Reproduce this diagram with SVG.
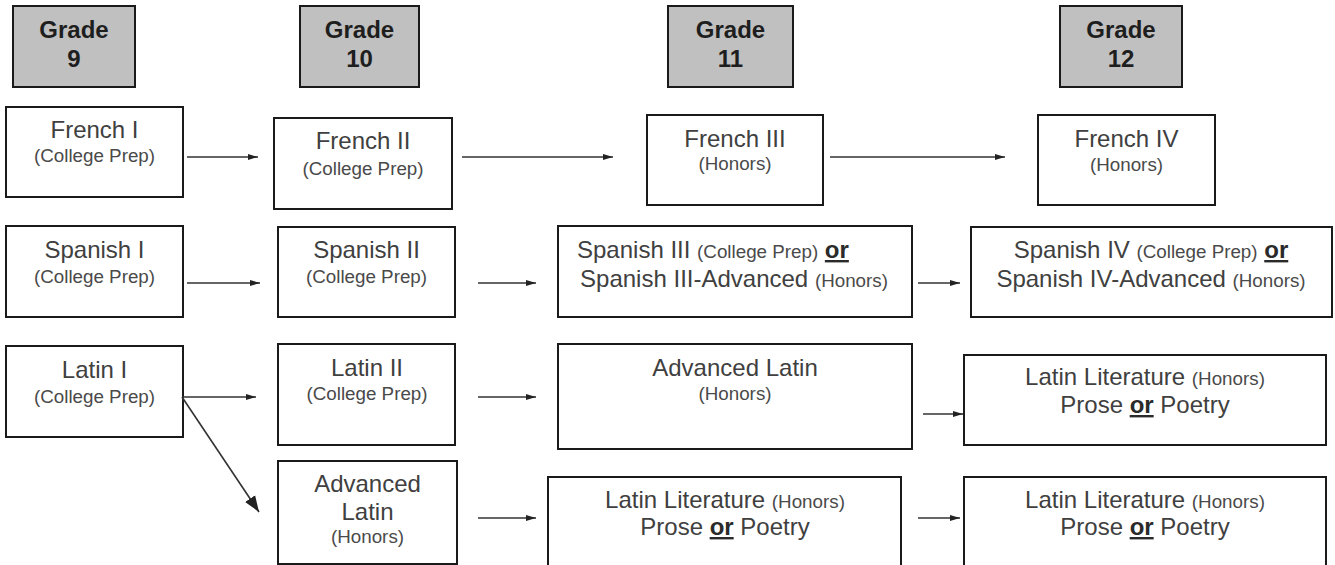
<svg xmlns="http://www.w3.org/2000/svg" width="1335" height="565" viewBox="0 0 1335 565">
<style>
.hdr{fill:#c0c0c0;stroke:#1a1a1a;stroke-width:2}
.box{fill:#fff;stroke:#1a1a1a;stroke-width:2}
.ht{font-family:"Liberation Sans",Arial,sans-serif;font-size:24px;font-weight:bold;fill:#1e1e1e;text-anchor:middle}
.t{font-family:"Liberation Sans",Arial,sans-serif;font-size:24px;fill:#404040;text-anchor:middle}
.s{font-size:18.8px;fill:#4a4a4a}
.or{font-weight:bold;text-decoration:underline;fill:#2a2a2a}
.ln{stroke:#333;stroke-width:1.6;fill:none}
</style>
<defs>
<marker id="ah" markerUnits="userSpaceOnUse" markerWidth="14" markerHeight="10" refX="10" refY="5" orient="auto">
<path d="M0,2 L10,5 L0,8 Z" fill="#222"/>
</marker>
<marker id="ahb" markerUnits="userSpaceOnUse" markerWidth="18" markerHeight="14" refX="16" refY="7" orient="auto">
<path d="M0,1 L16,7 L0,13 Z" fill="#222"/>
</marker>
</defs>

<g id="grade9"><rect class="hdr" x="13" y="6" width="122" height="81"/><text class="ht" x="74" y="38">Grade</text><text class="ht" x="74" y="67">9</text></g>
<g id="grade10"><rect class="hdr" x="300" y="6" width="119" height="81"/><text class="ht" x="359.5" y="38">Grade</text><text class="ht" x="359.5" y="67">10</text></g>
<g id="grade11"><rect class="hdr" x="668" y="6" width="125" height="81"/><text class="ht" x="730.5" y="38">Grade</text><text class="ht" x="730.5" y="67">11</text></g>
<g id="grade12"><rect class="hdr" x="1060" y="6" width="122" height="81"/><text class="ht" x="1121" y="38">Grade</text><text class="ht" x="1121" y="67">12</text></g>

<g id="french1"><rect class="box" x="6" y="107" width="177" height="90"/><text class="t" x="94.5" y="138">French I</text><text class="t s" x="94.5" y="162">(College Prep)</text></g>
<g id="french2"><rect class="box" x="274" y="118" width="178" height="91"/><text class="t" x="363" y="149">French II</text><text class="t s" x="363" y="175">(College Prep)</text></g>
<g id="french3"><rect class="box" x="647" y="115" width="176" height="90"/><text class="t" x="735" y="147">French III</text><text class="t s" x="735" y="170">(Honors)</text></g>
<g id="french4"><rect class="box" x="1038" y="115" width="177" height="90"/><text class="t" x="1126.5" y="147">French IV</text><text class="t s" x="1126.5" y="171">(Honors)</text></g>

<g id="spanish1"><rect class="box" x="6" y="226" width="177" height="91"/><text class="t" x="94.5" y="258">Spanish I</text><text class="t s" x="94.5" y="283">(College Prep)</text></g>
<g id="spanish2"><rect class="box" x="278" y="227" width="177" height="90"/><text class="t" x="366.5" y="258">Spanish II</text><text class="t s" x="366.5" y="283">(College Prep)</text></g>
<g id="spanish3"><rect class="box" x="558" y="226" width="354" height="91"/><text class="t" x="577" y="258" style="text-anchor:start">Spanish III <tspan class="s">(College Prep)</tspan> <tspan class="or">or</tspan></text><text class="t" x="734" y="287">Spanish III-Advanced <tspan class="s">(Honors)</tspan></text></g>
<g id="spanish4"><rect class="box" x="971" y="227" width="361" height="90"/><text class="t" x="1151" y="258">Spanish IV <tspan class="s">(College Prep)</tspan> <tspan class="or">or</tspan></text><text class="t" x="1151" y="287">Spanish IV-Advanced <tspan class="s">(Honors)</tspan></text></g>

<g id="latin1"><rect class="box" x="6" y="346" width="177" height="91"/><text class="t" x="94.5" y="378">Latin I</text><text class="t s" x="94.5" y="403">(College Prep)</text></g>
<g id="latin2"><rect class="box" x="278" y="344" width="177" height="101"/><text class="t" x="367" y="376">Latin II</text><text class="t s" x="367" y="400">(College Prep)</text></g>
<g id="advlatin10"><rect class="box" x="278" y="461" width="179" height="103"/><text class="t" x="367.5" y="492">Advanced</text><text class="t" x="367.5" y="520">Latin</text><text class="t s" x="367.5" y="543">(Honors)</text></g>
<g id="advlatin11"><rect class="box" x="558" y="344" width="354" height="105"/><text class="t" x="735" y="376">Advanced Latin</text><text class="t s" x="735" y="400">(Honors)</text></g>
<g id="latlit11"><rect class="box" x="548" y="477" width="353" height="100"/><text class="t" x="725" y="508">Latin Literature <tspan class="s">(Honors)</tspan></text><text class="t" x="725" y="535">Prose <tspan class="or">or</tspan> Poetry</text></g>
<g id="latlit12a"><rect class="box" x="964" y="355" width="362" height="90"/><text class="t" x="1145" y="385">Latin Literature <tspan class="s">(Honors)</tspan></text><text class="t" x="1145" y="413">Prose <tspan class="or">or</tspan> Poetry</text></g>
<g id="latlit12b"><rect class="box" x="964" y="477" width="362" height="100"/><text class="t" x="1145" y="508">Latin Literature <tspan class="s">(Honors)</tspan></text><text class="t" x="1145" y="535">Prose <tspan class="or">or</tspan> Poetry</text></g>

<g id="connectors">
<line class="ln" x1="187" y1="157" x2="258" y2="157" marker-end="url(#ah)"/>
<line class="ln" x1="462" y1="157" x2="613" y2="157" marker-end="url(#ah)"/>
<line class="ln" x1="830" y1="157" x2="1005" y2="157" marker-end="url(#ah)"/>
<line class="ln" x1="187" y1="283" x2="260" y2="283" marker-end="url(#ah)"/>
<line class="ln" x1="478" y1="283" x2="536" y2="283" marker-end="url(#ah)"/>
<line class="ln" x1="918" y1="283" x2="960" y2="283" marker-end="url(#ah)"/>
<line class="ln" x1="182" y1="397" x2="256" y2="397" marker-end="url(#ah)"/>
<line class="ln" x1="182" y1="397" x2="259" y2="512" marker-end="url(#ahb)"/>
<line class="ln" x1="478" y1="397" x2="536" y2="397" marker-end="url(#ah)"/>
<line class="ln" x1="923" y1="414" x2="963" y2="414" marker-end="url(#ah)"/>
<line class="ln" x1="478" y1="518" x2="536" y2="518" marker-end="url(#ah)"/>
<line class="ln" x1="918" y1="518" x2="960" y2="518" marker-end="url(#ah)"/>
</g>
</svg>
